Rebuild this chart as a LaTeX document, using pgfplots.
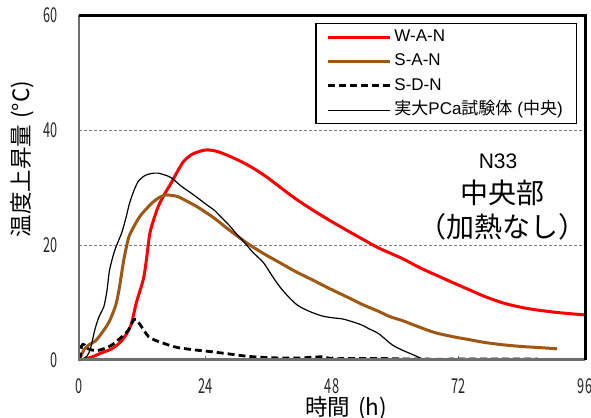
\documentclass[border=0pt]{standalone}
\usepackage{fontspec}
\setmainfont{Noto Sans CJK JP}
\newfontfamily\nf{Noto Sans CJK JP}[FakeStretch=0.62]
\newfontfamily\ar{Liberation Sans}
\usepackage{pgfplots}
\pgfplotsset{compat=1.18}
\definecolor{sanbrown}{RGB}{158,88,20}
\definecolor{axgray}{RGB}{110,110,110}
\pgfplotsset{myleg/.style={legend image code/.code={\draw[##1] (0bp,0bp) -- (62bp,0bp);}}}
\begin{document}
\begin{tikzpicture}
\begin{axis}[
 scale only axis, width=506bp, height=344.4bp,
 xmin=0, xmax=96, ymin=0, ymax=60,
 xtick={0,24,48,72,96}, ytick={0,20,40,60},
 axis line style={draw=none},
 tick align=inside, xtick pos=bottom, ytick pos=left,
 major tick length=4bp,
 xtick style={draw=axgray, line width=0.8bp},
 ytick style={draw=none},
 ymajorgrids, major grid style={draw=gray, line width=0.7bp, dash pattern=on 3bp off 2bp},
 /pgf/number format/assume math mode=true,
 ticklabel style={font=\nf\fontsize{20.5bp}{22bp}\selectfont, text=black!85},
 xticklabel style={anchor=north, inner sep=0pt, yshift=-19bp},
 yticklabel style={anchor=east, inner sep=0pt, xshift=-21bp},
 xlabel={時間\hspace{8bp}(h)},
 ylabel={温度上昇量\hspace{6bp}(°C)},
 label style={font=\fontsize{22.5bp}{24bp}\selectfont},
 xlabel style={at={(rel axis cs:0.528,-0.14)}, anchor=center},
 ylabel style={at={(rel axis cs:-0.1126,0.583)}, anchor=center},
 legend style={at={(rel axis cs:0.984,0.978)}, anchor=north east, draw=black, line width=1.2bp,
   font=\fontsize{17bp}{19bp}\selectfont, inner xsep=11bp, inner ysep=3bp, row sep=2.8bp, column sep=0bp,
   nodes={inner sep=2.5bp, text height=12.5bp, text depth=4bp}},
 legend cell align=left,
 clip=false,
]
\addplot[color=red, line width=3bp, smooth, myleg] coordinates {
(0,0) (1.1,0.1) (2.5,0.5) (4.3,1.2) (6.2,1.9) (8.1,3.3) (9.8,5.9) (10.9,10.0) (12.2,14.0) (12.8,17.5) (13.4,21.8) (14.1,24.2) (15,26.6) (16.2,28.8) (17.5,30.8) (18.8,33) (19.9,34.6) (21.5,35.8) (23.7,36.5) (25,36.5) (26.5,36.2) (28.7,35.4) (31,34.4) (33,33.4) (35.5,31.9) (38.1,30.1) (41,28.1) (44.3,26.1) (47.5,24.3) (50.7,22.6) (53.8,21) (57,19.4) (61.4,17.6) (64.5,16.1) (67.6,14.8) (71,13.4) (74,12.2) (77,11) (80.4,9.9) (83.5,9.2) (86.6,8.7) (91,8.2) (96,7.8)};
\addlegendentry{{\ar W-A-N}}
\addplot[color=sanbrown, line width=3bp, smooth, myleg] coordinates {
(0.3,0.5) (1,1.8) (1.9,2.6) (3,3.2) (3.8,4) (5.6,6.4) (6.9,9.3) (7.5,11.7) (8,14.5) (8.5,17.4) (9.4,21.2) (10.3,23) (11.5,24.9) (12.8,26.3) (14.1,27.5) (15.3,28.3) (16.5,28.7) (17.7,28.6) (18.8,28.4) (20.5,27.6) (22.5,26.6) (25.6,24.7) (28.5,22.6) (31.9,20.3) (35,18.5) (38.1,16.9) (41.2,15.3) (44.3,13.9) (47.5,12.4) (50.7,11) (53.8,9.6) (56.9,8.4) (59,7.5) (61.4,6.8) (64.5,5.7) (67.6,4.7) (71,4) (74,3.5) (77,3) (80.4,2.6) (84,2.3) (87.5,2.1) (90.7,1.9)};
\addlegendentry{{\ar S-A-N}}
\addplot[color=black, line width=2.8bp, dash pattern=on 7bp off 4bp, smooth, myleg] coordinates {
(0.2,0) (0.5,2.4) (1,2.6) (1.5,2) (2.4,1.7) (3.5,1.6) (5,2) (6.3,2.6) (7.5,3.5) (8.5,4.3) (9.4,5.2) (10.3,6.8) (10.8,7) (11.6,6.1) (12.4,5) (13.2,4) (14.4,3.4) (15.6,3) (17.2,2.5) (18.8,2.1) (22,1.7) (25,1.4) (28.5,1) (31.9,0.6) (35,0.4) (38.1,0.3) (42,0.3) (46,0.5) (48,0.2) (52,0.2) (57,0.2) (65,0.1) (75,0.1) (87,0.1)};
\addlegendentry{{\ar S-D-N}}
\addplot[color=black, line width=1.2bp, smooth, myleg] coordinates {
(0.5,0) (1.5,0.6) (2.2,2) (3,5.2) (3.8,7.5) (4.7,9.2) (5.3,12) (5.8,15.6) (6.8,19.1) (8.1,22.1) (8.9,24.7) (9.6,27.3) (10.4,29.4) (11.2,31) (12.2,31.9) (13.1,32.3) (14.2,32.5) (15,32.5) (16.2,32.2) (17.5,31.7) (19.3,30.3) (21,29.2) (22.5,28.2) (24.5,26.8) (25.6,26.1) (26.9,24.9) (28.5,23.4) (30,21.8) (31.5,20.3) (33,18.7) (35,16.9) (36.5,14.8) (38.1,12.7) (39.7,11) (41.3,9.6) (42.8,8.8) (44.3,8.2) (46.2,7.6) (48.1,7.3) (50,7.1) (51.9,6.6) (53.5,6.1) (55,5.4) (56.9,4.5) (59.4,2.6) (61.5,1.6) (63.3,0.9) (65,0.2) (66,0)};
\addlegendentry{実大{\ar PCa}試験体\hspace{5bp}{\ar(}中央{\ar)}}
\draw[axgray, line width=2.5bp] (rel axis cs:0,1) -- (rel axis cs:0,0) -- (rel axis cs:1,0);
\draw[black, line width=3bp] (rel axis cs:0,1) -- (rel axis cs:1,1) -- (rel axis cs:1,0);
\node[font=\ar\fontsize{21bp}{23bp}\selectfont] at (axis cs:79.5,34.5) {N33};
\node[font=\fontsize{28bp}{30bp}\selectfont] at (axis cs:80.3,29.0) {中央部};
\node[font=\fontsize{28bp}{30bp}\selectfont] at (axis cs:80.3,23.2) {（加熱なし）};
\coordinate (ll) at (rel axis cs:0,0);
\coordinate (ur) at (rel axis cs:1,1);
\end{axis}
\pgfresetboundingbox
\path[use as bounding box] ([shift={(-79bp,-58.3bp)}]ll) rectangle ([shift={(6bp,15.3bp)}]ur);
\end{tikzpicture}
\end{document}
